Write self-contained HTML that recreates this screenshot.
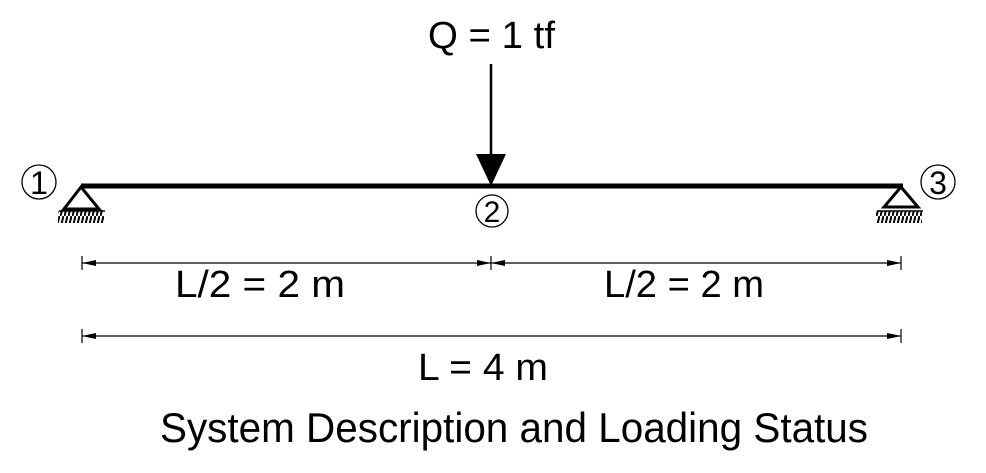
<!DOCTYPE html>
<html><head><meta charset="utf-8"><style>html,body{margin:0;padding:0;background:#fff}svg{display:block}</style></head>
<body>
<svg width="986" height="473" viewBox="0 0 986 473" xmlns="http://www.w3.org/2000/svg" font-family="Liberation Sans, sans-serif">
<defs>
<pattern id="h" width="4" height="12" patternUnits="userSpaceOnUse"><line x1="3.5" y1="0" x2="0.5" y2="12" stroke="#000" stroke-width="2"/></pattern>
</defs>
<line x1="81" y1="186" x2="903" y2="186" stroke="#000" stroke-width="5"/>
<polygon points="81,187 64,209 99,209" fill="none" stroke="#000" stroke-width="3"/>
<line x1="59" y1="211" x2="105" y2="211" stroke="#000" stroke-width="1.5"/>
<rect x="58" y="211" width="46" height="12" fill="url(#h)"/>
<polygon points="901,187 884,207 918,207" fill="none" stroke="#000" stroke-width="3"/>
<line x1="877" y1="211" x2="923" y2="211" stroke="#000" stroke-width="1.5"/>
<rect x="876" y="211" width="46" height="12" fill="url(#h)"/>
<line x1="491" y1="64" x2="491" y2="156" stroke="#000" stroke-width="2.5"/>
<polygon points="476,154 506,154 491,186" fill="#000"/>
<circle cx="39" cy="182" r="17" fill="none" stroke="#000" stroke-width="1.3"/>
<text x="39" y="194" font-size="32" text-anchor="middle">1</text>
<circle cx="492" cy="211" r="16" fill="none" stroke="#000" stroke-width="1.3"/>
<text x="492" y="222" font-size="30" text-anchor="middle">2</text>
<circle cx="938" cy="182" r="17" fill="none" stroke="#000" stroke-width="1.3"/>
<text x="938" y="194" font-size="32" text-anchor="middle">3</text>
<g stroke="#000" stroke-width="1.2">
<line x1="82" y1="263" x2="901" y2="263"/>
<line x1="82" y1="256" x2="82" y2="270"/>
<line x1="491" y1="256" x2="491" y2="270"/>
<line x1="901" y1="256" x2="901" y2="270"/>
<line x1="82" y1="336" x2="901" y2="336"/>
<line x1="82" y1="329" x2="82" y2="343"/>
<line x1="901" y1="329" x2="901" y2="343"/>
</g>
<g fill="#000">
<polygon points="82,263 96,260 96,266"/>
<polygon points="491,263 477,260 477,266"/>
<polygon points="491,263 505,260 505,266"/>
<polygon points="901,263 887,260 887,266"/>
<polygon points="82,336 96,333 96,339"/>
<polygon points="901,336 887,333 887,339"/>
</g>
<text x="428" y="48" font-size="38" textLength="127" lengthAdjust="spacingAndGlyphs">Q = 1 tf</text>
<text x="175" y="297" font-size="38" textLength="170" lengthAdjust="spacingAndGlyphs">L/2 = 2 m</text>
<text x="604" y="297" font-size="38" textLength="160" lengthAdjust="spacingAndGlyphs">L/2 = 2 m</text>
<text x="418" y="380" font-size="38" textLength="130" lengthAdjust="spacingAndGlyphs">L = 4 m</text>
<text x="160" y="442" font-size="42" textLength="708" lengthAdjust="spacingAndGlyphs">System Description and Loading Status</text>
</svg>
</body></html>
